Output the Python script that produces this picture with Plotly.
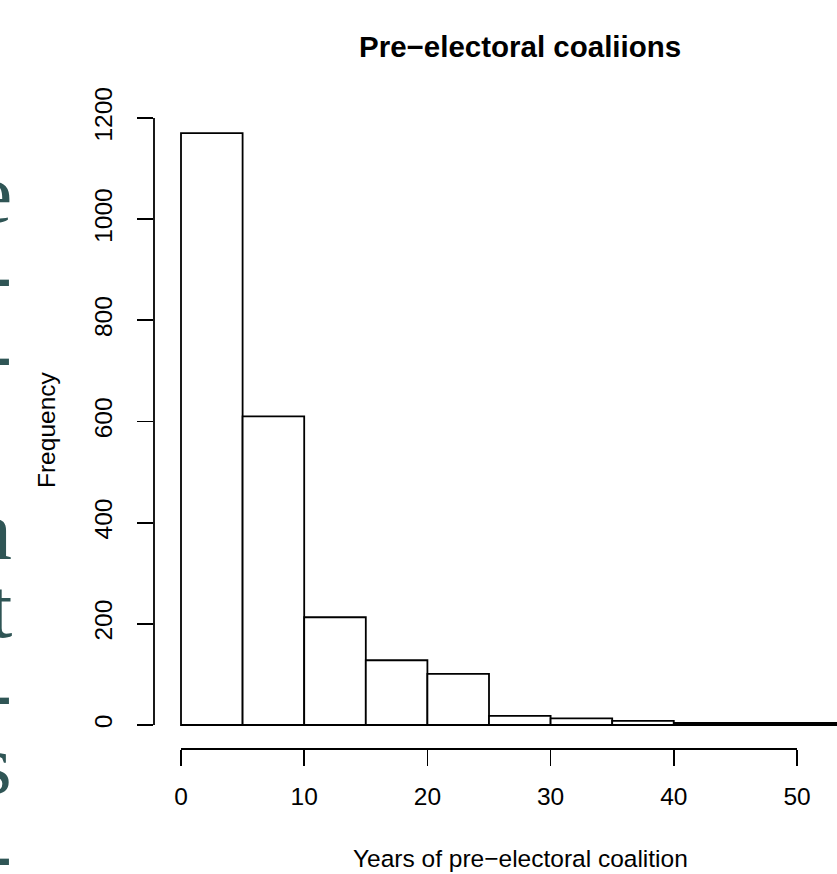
import plotly.graph_objects as go

# ---- data ----
bin_edges = [0, 5, 10, 15, 20, 25, 30, 35, 40, 45, 50, 55]
counts = [1170, 610, 213, 128, 101, 18, 13, 8, 4, 4, 4]
x_ticks = [0, 10, 20, 30, 40, 50]
y_ticks = [0, 200, 400, 600, 800, 1000, 1200]
title_text = "Pre\u2212electoral coaliions"
x_title = "Years of pre\u2212electoral coalition"
y_title = "Frequency"
side_chars = ["e", "-", "-", "n", "t", "-", "s", "-"]
side_char_y = [193, 274, 353, 530, 608, 692, 764, 853]

mids = [(a + b) / 2 for a, b in zip(bin_edges[:-1], bin_edges[1:])]
widths = [b - a for a, b in zip(bin_edges[:-1], bin_edges[1:])]

# ---- layout geometry (page pixels) ----
W, H = 837, 874
plot_left, plot_top, plot_bottom = 154, 100, 749
L, T, B, R = plot_left, plot_top, H - plot_bottom, 0
PW, PH = W - L - R, H - T - B
x0_px, x50_px = 181, 797
y0_px, y1200_px = 725, 118
xs = (x50_px - x0_px) / 50.0
ys = (y0_px - y1200_px) / 1200.0
x_range = [(plot_left - x0_px) / xs, (W - x0_px) / xs]
y_range = [-(plot_bottom - y0_px) / ys, (y0_px - plot_top) / ys]


def px(xp):
    return (xp - plot_left) / PW


def py(yp):
    return (plot_bottom - yp) / PH


FONT = "Liberation Sans, Arial, Helvetica, sans-serif"
LW = 1.8

fig = go.Figure()
fig.add_trace(go.Bar(
    x=mids, y=counts, width=widths,
    marker=dict(color="white", line=dict(color="black", width=LW)),
    showlegend=False, hoverinfo="skip",
))

fig.update_layout(
    width=W, height=H,
    margin=dict(l=L, r=R, t=T, b=B, pad=0),
    paper_bgcolor="white", plot_bgcolor="white",
    font=dict(family=FONT, size=24.5, color="black"),
    xaxis=dict(
        range=x_range, showgrid=False, zeroline=False, showline=False,
        tickmode="array", tickvals=x_ticks, ticktext=[str(v) for v in x_ticks],
        ticks="outside", ticklen=16, tickwidth=LW, tickcolor="black",
        tickfont=dict(family=FONT, size=24.5, color="black"),
        ticklabelstandoff=10,
    ),
    yaxis=dict(
        range=y_range, showgrid=False, zeroline=False, showline=False,
        tickmode="array", tickvals=y_ticks, ticktext=[str(v) for v in y_ticks],
        ticks="outside", ticklen=16, tickwidth=LW, tickcolor="black",
        tickangle=-90,
        tickfont=dict(family=FONT, size=24.5, color="black"),
        ticklabelstandoff=15,
    ),
)

# R-style detached axis lines
fig.add_shape(type="line", xref="x", yref="paper", x0=x_ticks[0], x1=x_ticks[-1],
              y0=0, y1=0, line=dict(color="black", width=LW))
fig.add_shape(type="line", xref="paper", yref="y", x0=0, x1=0,
              y0=y_ticks[0], y1=y_ticks[-1], line=dict(color="black", width=LW))

# titles
fig.add_annotation(text="<b>" + title_text + "</b>", xref="paper", yref="paper",
                   x=px(520), y=py(46), showarrow=False, xanchor="center", yanchor="middle",
                   font=dict(family=FONT, size=29.5, color="black"))
fig.add_annotation(text=x_title, xref="paper", yref="paper",
                   x=px(520), y=py(858), showarrow=False, xanchor="center", yanchor="middle",
                   font=dict(family=FONT, size=24.5, color="black"))
fig.add_annotation(text=y_title, xref="paper", yref="paper", textangle=-90,
                   x=px(46), y=py(430), showarrow=False, xanchor="center", yanchor="middle",
                   font=dict(family=FONT, size=24.5, color="black"))

# clipped serif text fragments at the left edge of the page
for ch, yc in zip(side_chars, side_char_y):
    fig.add_annotation(text=ch, xref="paper", yref="paper",
                       x=px(14), y=py(yc), showarrow=False,
                       xanchor="right", yanchor="middle",
                       font=dict(family="Liberation Serif, serif", size=84, color="#2f5555"))

fig.write_html(
    "out.html",
    config={"displayModeBar": False, "staticPlot": True},
    post_script="document.body.style.margin='0';document.body.style.overflow='hidden';",
)
